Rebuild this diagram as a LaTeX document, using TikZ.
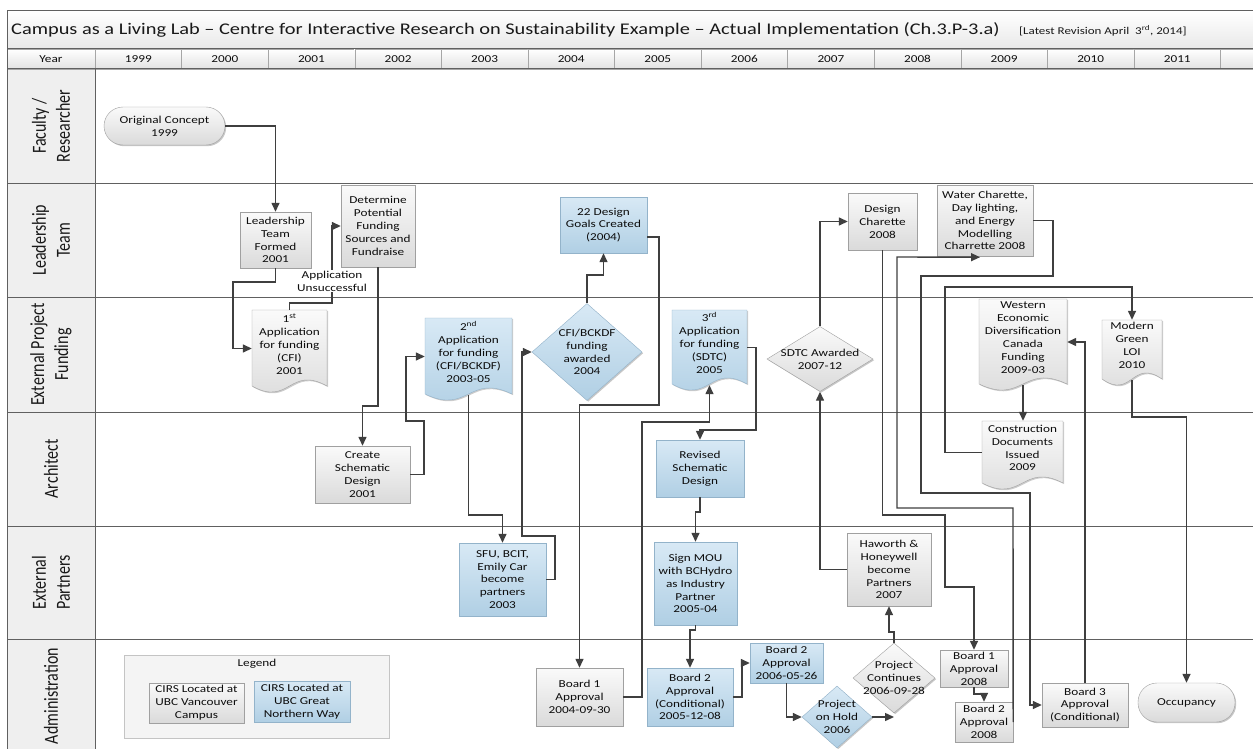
\documentclass[tikz,border=0pt]{standalone}
\usepackage{fontspec}
\setmainfont{Carlito}[FakeStretch=1.25]
\newfontfamily\lanefont{Carlito}[FakeStretch=0.8]
\usetikzlibrary{arrows.meta,shapes.geometric,shadows,calc}
\definecolor{linec}{HTML}{3F3F3F}
\definecolor{gridc}{HTML}{606060}
\definecolor{gtop}{HTML}{FAFAFA}
\definecolor{gbot}{HTML}{DADADA}
\definecolor{gedge}{HTML}{A0A0A0}
\definecolor{btop}{HTML}{D8E9F5}
\definecolor{bbot}{HTML}{B0CFE4}
\definecolor{bedge}{HTML}{93B3CA}
\definecolor{hdr}{HTML}{EFEFEF}
\definecolor{celltop}{HTML}{FFFFFF}
\definecolor{cellbot}{HTML}{E2E2E2}
\definecolor{legfill}{HTML}{F4F4F4}
\definecolor{legedge}{HTML}{C4C4C4}
\tikzset{
  txt/.style={font=\fontsize{10.6}{12.9}\selectfont, align=center, text=black!95},
  shd/.style={drop shadow={shadow xshift=1.2pt,shadow yshift=-1.2pt,opacity=0.22,fill=black}},
  gbox/.style={txt, rectangle, draw=gedge, top color=gtop, bottom color=gbot, shd, inner sep=1pt},
  bbox/.style={txt, rectangle, draw=bedge, top color=btop, bottom color=bbot, shd, inner sep=1pt},
  conn/.style={draw=linec, line width=1.4pt, -{Triangle[length=9pt,width=8pt]}},
  grid/.style={draw=gridc, line width=1pt},
  yearcell/.style={txt, rectangle, draw=gray!70, top color=celltop, bottom color=cellbot, inner sep=0},
  lanelbl/.style={rotate=90, font=\lanefont\fontsize{20}{24}\selectfont, align=center, text=black!90},
}
% rectangle node from corner coordinates
\newcommand{\boxat}[7]{\node[#2, minimum width={#5-#3}, minimum height={#6-#4}] (#1) at ({(#3+#5)/2},{(#4+#6)/2}) {#7};}
% diamond node: name, style, cx, cy, w, h, text
\newcommand{\diaat}[7]{\node[#2, diamond, inner sep=0, minimum width=#5, minimum height=#6] (#1) at (#3,#4) {};
  \node[txt] (#1t) at (#1.center) {#7};}
% document node: name, colour prefix (g/b), x1, y1, x2, y2, text
\newcommand{\docat}[7]{%
  \fill[black,opacity=0.2,xshift=1.2pt,yshift=-1.2pt] (#3,#4) -- (#5,#4) -- (#5,#6-6) .. controls ({(#3+#5)/2},#6-27) and ({(#3+#5)/2},#6+15) .. (#3,#6-6) -- cycle;
  \shade[top color=#2top, bottom color=#2bot] (#3,#4) -- (#5,#4) -- (#5,#6-6) .. controls ({(#3+#5)/2},#6-27) and ({(#3+#5)/2},#6+15) .. (#3,#6-6) -- cycle;
  \draw[#2edge] (#3,#4) -- (#5,#4) -- (#5,#6-6) .. controls ({(#3+#5)/2},#6-27) and ({(#3+#5)/2},#6+15) .. (#3,#6-6) -- cycle;
  \node[inner sep=0, minimum width={#5-#3}, minimum height={#6-#4-5}] (#1) at ({(#3+#5)/2},{(#4+#6-5)/2}) {};
  \node[txt] (#1t) at ({(#3+#5)/2},{(#4+#6)/2-7}) {#7};}

\begin{document}
\begin{tikzpicture}[x=1pt,y=-1pt]
\useasboundingbox[fill=white] (0,0) rectangle (1253,749);
% ---------- frame, title and year row ----------
\shade[top color=white, bottom color=black!9] (7,11) rectangle (1262,49);
\fill[hdr] (7,69) rectangle (95,762);
\node[anchor=west, font=\fontsize{16.3}{19}\selectfont, text=black!90, inner sep=0] (title) at (11,30)
  {Campus as a Living Lab – Centre for Interactive Research on Sustainability Example – Actual Implementation (Ch.3.P-3.a)};
\node[anchor=west, font=\fontsize{10.4}{12}\selectfont, text=black!90, inner sep=0] (rev) at (1019,31)
  {[Latest Revision April\ \ 3\textsuperscript{rd}, 2014]};
\node[yearcell, minimum width=88, minimum height=20] (yyear) at (51,59) {Year};
\foreach \i/\yr in {0/1999,1/2000,2/2001,3/2002,4/2003,5/2004,6/2005,7/2006,8/2007,9/2008,10/2009,11/2010,12/2011}
  \node[yearcell, minimum width=86.58, minimum height=20] (y\yr) at ({138.29+86.58*\i},59) {\yr};
\node[yearcell, minimum width=86.58, minimum height=20] (yextra) at (1263.8,59) {};
\draw[grid] (7,11) -- (1262,11);
\draw[grid] (7,49) -- (1262,49);
\draw[grid] (7,69) -- (1262,69);
\foreach \yy in {183,297,412,526,639} \draw[grid] (7,\yy) -- (1262,\yy);
\draw[grid] (7,11) -- (7,762);
\draw[grid] (95,69) -- (95,762);
% ---------- lane labels ----------
\node[lanelbl] (lfac) at (51,126) {Faculty /\\Researcher};
\node[lanelbl] (llead) at (51,240) {Leadership\\Team};
\node[lanelbl] (lext) at (51,354.5) {External Project\\Funding};
\node[lanelbl] (larch) at (51,469) {Architect};
\node[lanelbl] (lpart) at (51,582.5) {External\\Partners};
\node[lanelbl] (ladm) at (51,696) {Administration};
% ---------- legend ----------
\node[draw=legedge, fill=legfill, shd, minimum width=265, minimum height=83] (legend) at (256.5,696.5) {};
\node[txt] (legendt) at (257,664) {Legend};
\boxat{leg1}{gbox}{149}{683}{244}{723}{CIRS Located at\\UBC Vancouver\\Campus}
\boxat{leg2}{bbox}{254}{681}{350}{722}{CIRS Located at\\UBC Great\\Northern Way}
% ---------- nodes ----------
\node[gbox, rounded corners=19pt, minimum width=121, minimum height=38] (orig) at (164.5,126) {Original Concept\\1999};
\boxat{lead}{gbox}{240}{212}{311}{268}{Leadership\\Team\\Formed\\2001}
\boxat{det}{gbox}{341}{185}{415}{267}{Determine\\Potential\\Funding\\Sources and\\Fundraise}
\docat{app1}{g}{252}{310}{327}{392}{1\textsuperscript{st}\\Application\\for funding\\(CFI)\\2001}
\boxat{create}{gbox}{315}{446}{410}{503}{Create\\Schematic\\Design\\2001}
\docat{app2}{b}{425}{318}{512}{400}{2\textsuperscript{nd}\\Application\\for funding\\(CFI/BCKDF)\\2003-05}
\boxat{sfu}{bbox}{459}{543}{546}{616}{SFU, BCIT,\\Emily Car\\become\\partners\\2003}
\diaat{cfid}{bbox}{587}{352}{110}{97}{CFI/BCKDF\\funding\\awarded\\2004}
\boxat{goals}{bbox}{560}{197}{647}{253}{22 Design\\Goals Created\\(2004)}
\boxat{bone}{gbox}{536}{668}{623}{726}{Board 1\\Approval\\2004-09-30}
\docat{app3}{b}{672}{310}{747}{390}{3\textsuperscript{rd}\\Application\\for funding\\(SDTC)\\2005}
\boxat{revised}{bbox}{656}{440}{744}{497}{Revised\\Schematic\\Design}
\boxat{mou}{bbox}{654}{542}{737}{625}{Sign MOU\\with BCHydro\\as Industry\\Partner\\2005-04}
\boxat{btwoc}{bbox}{647}{668}{733}{726}{Board 2\\Approval\\(Conditional)\\2005-12-08}
\boxat{btwom}{bbox}{750}{643}{823}{683}{Board 2\\Approval\\2006-05-26}
\diaat{hold}{bbox}{837}{717}{70}{62}{Project\\on Hold\\2006}
\diaat{cont}{gbox}{894}{678}{82}{70}{Project\\Continues\\2006-09-28}
\boxat{haw}{gbox}{847}{533}{931}{606}{Haworth \&\\Honeywell\\become\\Partners\\2007}
\diaat{sdtc}{gbox}{820}{359}{106}{65}{SDTC Awarded\\2007-12}
\boxat{dc}{gbox}{848}{193}{917}{250}{Design\\Charette\\2008}
\boxat{wc}{gbox}{937}{185}{1033}{256}{Water Charette,\\Day lighting,\\and Energy\\Modelling\\Charrette 2008}
\docat{wed}{g}{979}{299}{1067}{390}{Western\\Economic\\Diversification\\Canada\\Funding\\2009-03}
\docat{cd}{g}{982}{421}{1063}{489}{Construction\\Documents\\Issued\\2009}
\docat{mg}{g}{1102}{320}{1162}{385}{Modern\\Green\\LOI\\2010}
\boxat{bone08}{gbox}{940}{650}{1008}{687}{Board 1\\Approval\\2008}
\boxat{btwo08}{gbox}{955}{702}{1013}{742}{Board 2\\Approval\\2008}
\boxat{bthree}{gbox}{1042}{683}{1128}{727}{Board 3\\Approval\\(Conditional)}
\node[gbox, rounded corners=19pt, minimum width=97, minimum height=39] (occ) at (1186.5,702.5) {Occupancy};
% ---------- connectors ----------
\draw[conn] (orig.east) -| (lead.north);
\draw[conn] (lead.south) |- (233,282) |- (app1.west);
\draw[conn] (app1.north) |- (332,303) |- (det.west);
\node[txt, fill=white, inner sep=0.5pt] (unsucc) at (332,281) {Application\\Unsuccessful};
\draw[conn] (det.south) -- (378,406) -| (create.north);
\draw[conn] (create.east) -| (424,421) -| ($(app2.west)+(-19,0)$) -- (app2.west);
\draw[conn] (app2.south) -- (468.5,515) -| (sfu.north);
\draw[conn] (sfu.east) -| (555,536) -| ($(cfid.west)+(-10,0)$) -- (cfid.west);
\draw[conn] (cfid.north) -- (587,275) -| (goals.south);
\draw[conn] ([yshift=-12pt]goals.east) -| (659,405) -| (bone.north);
\draw[conn] (bone.east) -| (642,422) -| (app3.south);
\draw[conn] (app3.east) -| (756,430) -| (revised.north);
\draw[conn] (revised.south) -- (700,512) -| (mou.north);
\draw[conn] (mou.south) -- (695.5,630) -| (btwoc.north);
\draw[conn] (btwoc.east) -| ($(btwom.west)+(-8,0)$) -- (btwom.west);
\draw[conn] (btwom.south) |- (hold.west);
\draw[conn] (hold.east) -- (hold.east -| cont.south);
\draw[conn] (cont.north) -- (894,632) -| (haw.south);
\draw[conn] (haw.west) -| (sdtc.south);
\draw[conn] (sdtc.north) |- (dc.west);
\draw[conn] (dc.south) -- (882.5,515) -| (945,587) -| (bone08.north);
\draw[conn] (bone08.south) -- (974,694) -| (btwo08.north);
\draw[conn] (btwo08.east) -- (1013,508) -| (897,257) -- ($(wc.south)+(-5,1)$);
\draw[conn] (wc.east) -| (1053,276) -| (921,493) -| (1030,705) -- (bthree.west);
\draw[conn] (cd.west) -| (945,287) -| (mg.north);
\draw[conn] (wed.south) -- (wed.south |- cd.north);
\draw[conn] (bthree.north) |- (wed.east);
\draw[conn] (mg.south) -- (1132,417) -| (occ.north);
\end{tikzpicture}
\end{document}
